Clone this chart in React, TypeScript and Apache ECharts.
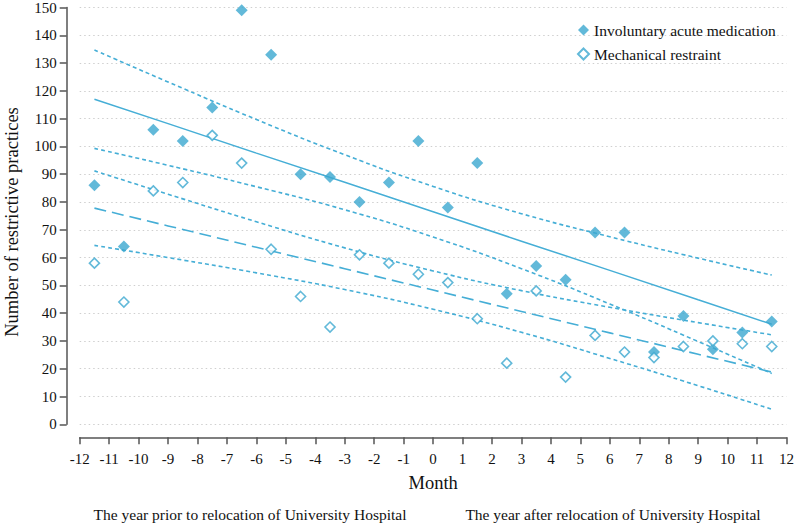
import React, { useEffect, useRef } from "react";
import * as echarts from "echarts";

const months = [-11.5, -10.5, -9.5, -8.5, -7.5, -6.5, -5.5, -4.5, -3.5, -2.5, -1.5, -0.5, 0.5, 1.5, 2.5, 3.5, 4.5, 5.5, 6.5, 7.5, 8.5, 9.5, 10.5, 11.5];
const involuntary = [86, 64, 106, 102, 114, 149, 133, 90, 89, 80, 87, 102, 78, 94, 47, 57, 52, 69, 69, 26, 39, 27, 33, 37];
const mechanical = [58, 44, 84, 87, 104, 94, 63, 46, 35, 61, 58, 54, 51, 38, 22, 48, 17, 32, 26, 24, 28, 30, 29, 28];

const fitMonths = [-11.5, -9, -6, -3, 0, 3, 6, 9, 11.5];
const invFit = [117.0, 108.2, 97.6, 87.1, 76.5, 65.9, 55.4, 44.8, 36.0];
const invUpper = [134.7, 123.2, 109.7, 97.0, 85.6, 75.8, 67.5, 59.8, 53.7];
const invLower = [99.3, 93.2, 85.5, 77.2, 67.4, 56.0, 43.3, 29.8, 18.3];
const mechFit = [77.8, 71.4, 63.7, 56.0, 48.3, 40.6, 32.9, 25.2, 18.8];
const mechUpper = [91.2, 82.8, 72.9, 63.5, 55.2, 48.1, 42.1, 36.6, 32.2];
const mechLower = [64.4, 60.0, 54.5, 48.5, 41.4, 33.1, 23.7, 13.9, 5.4];

const seriesNames = ["Involuntary acute medication", "Mechanical restraint"];
const xTitle = "Month";
const yTitle = "Number of restrictive practices";
const periodLabels = ["The year prior to relocation of University Hospital", "The year after relocation of University Hospital"];

const FONT = "Liberation Serif";
const MARK = "#3ba7cf";
const LINE = "#45aed6";
const AXIS = "#555555";
const TEXT = "#111111";

const pairs = (xs: number[], ys: number[]) => xs.map((x, i) => [x, ys[i]]);

export default function App() {
  const ref = useRef<HTMLDivElement>(null);
  useEffect(() => {
    if (!ref.current) return;
    const chart = echarts.init(ref.current, undefined, { renderer: "svg" });
    const lineSeries = (name: string, ys: number[], type: any, width: number, smooth: boolean) => ({
      name,
      type: "line",
      data: pairs(fitMonths, ys),
      showSymbol: false,
      symbol: "none",
      smooth: smooth ? 0.5 : false,
      lineStyle: { color: LINE, width, type },
      z: 1,
      silent: true,
    });
    chart.setOption({
      animation: false,
      backgroundColor: "#ffffff",
      textStyle: { fontFamily: FONT },
      grid: { left: 79.7, right: 9.3, top: 6, bottom: 99.7 },
      legend: {
        data: seriesNames.map((n) => ({ name: n, icon: "diamond" })),
        orient: "vertical",
        left: 572,
        top: 17,
        itemWidth: 11,
        itemHeight: 11,
        itemGap: 8,
        textStyle: { fontFamily: FONT, fontSize: 15.5, color: TEXT },
      },
      xAxis: {
        type: "value",
        min: -12,
        max: 12,
        interval: 1,
        offset: 13,
        axisLine: { show: true, onZero: false, lineStyle: { color: AXIS, width: 1.5 } },
        axisTick: { show: true, length: 7, lineStyle: { color: AXIS, width: 1.5 } },
        axisLabel: { fontFamily: FONT, fontSize: 15, color: TEXT, margin: 14 },
        splitLine: { show: false },
        name: xTitle,
        nameLocation: "middle",
        nameGap: 36,
        nameTextStyle: { fontFamily: FONT, fontSize: 18.5, color: TEXT },
      },
      yAxis: {
        type: "value",
        min: 0,
        max: 150,
        interval: 10,
        offset: 13,
        axisLine: { show: true, onZero: false, lineStyle: { color: AXIS, width: 1.5 } },
        axisTick: { show: true, length: 7, lineStyle: { color: AXIS, width: 1.5 } },
        axisLabel: { fontFamily: FONT, fontSize: 15, color: TEXT, margin: 10 },
        splitLine: { show: true, lineStyle: { color: "#cfcfcf", width: 1, type: [1.5, 3] } },
      },
      graphic: [
        {
          type: "text",
          x: 12,
          y: 222,
          rotation: Math.PI / 2,
          style: { text: yTitle, fontFamily: FONT, fontSize: 18.5, fill: TEXT, align: "center", verticalAlign: "middle" },
        },
        {
          type: "text",
          x: 250,
          y: 514,
          style: { text: periodLabels[0], fontFamily: FONT, fontSize: 15.5, fill: TEXT, align: "center", verticalAlign: "middle" },
        },
        {
          type: "text",
          x: 613,
          y: 514,
          style: { text: periodLabels[1], fontFamily: FONT, fontSize: 15.5, fill: TEXT, align: "center", verticalAlign: "middle" },
        },
      ],
      series: [
        lineSeries("inv-upper", invUpper, [4, 3], 1.6, true),
        lineSeries("inv-fit", invFit, "solid", 1.5, false),
        lineSeries("inv-lower", invLower, [4, 3], 1.6, true),
        lineSeries("mech-upper", mechUpper, [4, 3], 1.6, true),
        lineSeries("mech-fit", mechFit, [12, 6], 1.6, false),
        lineSeries("mech-lower", mechLower, [4, 3], 1.6, true),
        {
          name: seriesNames[0],
          type: "scatter",
          data: pairs(months, involuntary),
          symbol: "diamond",
          symbolSize: 12,
          itemStyle: { color: MARK },
          z: 3,
        },
        {
          name: seriesNames[1],
          type: "scatter",
          data: pairs(months, mechanical),
          symbol: "diamond",
          symbolSize: 10,
          itemStyle: { color: "#ffffff", borderColor: MARK, borderWidth: 1.6 },
          z: 3,
        },
      ],
    });
    return () => chart.dispose();
  }, []);
  return <div ref={ref} style={{ position: "fixed", left: 0, top: 0, width: 797, height: 524 }} />;
}
